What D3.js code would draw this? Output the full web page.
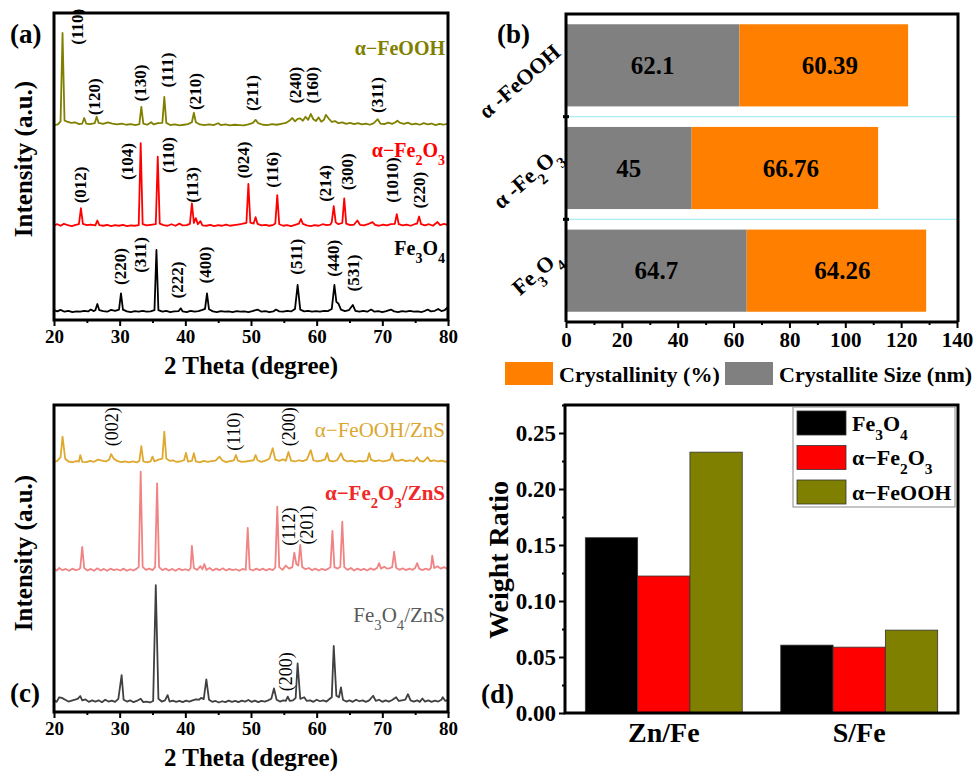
<!DOCTYPE html>
<html>
<head>
<meta charset="utf-8">
<script src="https://cdn.jsdelivr.net/npm/d3@7"></script>
<style>
  body { margin: 0; background: #fff; }
  svg { display: block; font-family: "Liberation Serif", "Times New Roman", serif; }
</style>
</head>
<body>
<div id="chart"></div>
<script>
// ---------- data: panel (a) XRD of the iron oxides, [2theta, intensity a.u.] ----------
const thetaTicks = [20, 30, 40, 50, 60, 70, 80];

const feoohA = [[20,0.3],[20.6,0.5],[21.0,1.5],[21.3,30.3],[21.6,1.8],[22.0,1.4],[22.6,1.0],[23.2,1.2],[23.8,0.6],[24.3,0.8],[24.6,2.6],[24.9,0.8],[25.5,0.6],[26.2,0.9],[26.5,3.0],[26.8,1.0],[27.5,0.7],[28.2,1.2],[28.9,0.8],[29.6,0.5],[30.3,0.8],[31.0,0.4],[31.7,0.6],[32.4,0.3],[33.0,0.6],[33.3,6.2],[33.6,0.8],[34.2,0.4],[34.8,1.2],[35.2,0.5],[35.8,0.9],[36.5,1.0],[36.8,9.5],[37.1,1.0],[37.7,0.3],[38.4,0.5],[39.1,0.2],[39.8,0.4],[40.4,0.6],[41.0,1.2],[41.3,4.3],[41.6,1.2],[42.2,0.5],[42.9,0.3],[43.6,0.5],[44.3,0.3],[45.0,0.9],[45.4,0.3],[46.1,0.5],[46.8,0.2],[47.5,0.4],[48.2,0.3],[48.9,0.2],[49.6,0.5],[50.3,1.0],[50.7,2.0],[51.1,0.9],[51.8,0.4],[52.5,0.3],[53.2,0.6],[53.9,0.4],[54.6,0.7],[55.3,1.0],[55.9,1.8],[56.3,2.6],[56.7,1.5],[57.1,2.3],[57.5,2.5],[57.9,1.7],[58.3,3.0],[58.7,2.0],[59.1,3.9],[59.5,2.2],[59.9,1.6],[60.3,2.8],[60.7,1.4],[61.1,2.0],[61.4,3.6],[61.8,2.5],[62.3,1.3],[62.8,1.6],[63.3,0.9],[63.9,1.2],[64.5,0.7],[65.1,1.0],[65.7,0.6],[66.3,0.9],[66.9,0.5],[67.5,0.8],[68.1,0.4],[68.7,0.9],[69.3,2.2],[69.7,0.8],[70.3,0.6],[70.9,1.1],[71.5,0.7],[72.0,1.2],[72.3,1.7],[72.7,1.0],[73.3,0.7],[73.9,1.1],[74.5,0.5],[75.1,0.8],[75.7,0.4],[76.3,0.9],[76.9,0.5],[77.5,0.8],[78.1,0.3],[78.7,0.7],[79.3,0.4],[80,0.8]];

const fe2o3A = [[20,0.4],[20.5,0.8],[21.0,0.3],[21.5,0.9],[22.1,0.5],[22.7,0.2],[23.3,0.6],[23.8,0.8],[24.1,6.0],[24.4,0.9],[25.0,0.5],[25.6,0.7],[26.3,0.4],[26.6,2.0],[26.9,0.5],[27.5,0.3],[28.1,0.6],[28.7,0.2],[29.3,0.5],[29.9,0.3],[30.5,0.6],[31.1,0.2],[31.7,0.4],[32.3,0.3],[32.9,0.5],[33.2,27.2],[33.5,0.8],[34.1,0.4],[34.7,0.6],[35.5,0.8],[35.8,22.8],[36.1,1.0],[36.7,0.5],[37.3,0.3],[37.9,0.8],[38.5,0.3],[39.1,1.0],[39.6,0.4],[40.2,0.5],[40.7,0.9],[41.0,7.6],[41.3,1.2],[41.6,2.8],[41.9,0.8],[42.3,1.8],[42.6,0.4],[43.2,0.3],[43.8,0.6],[44.4,0.2],[45.0,0.5],[45.6,0.3],[46.2,0.7],[46.8,0.3],[47.4,0.5],[48.0,0.7],[48.6,0.9],[49.3,1.2],[49.6,13.9],[49.9,1.3],[50.4,1.0],[50.7,3.1],[51.0,0.9],[51.6,0.4],[52.2,0.6],[52.8,0.3],[53.4,0.6],[53.7,1.0],[54.0,10.3],[54.3,0.8],[54.9,0.3],[55.5,0.5],[56.1,0.2],[56.7,0.6],[57.3,1.0],[57.6,2.5],[57.9,0.9],[58.5,0.4],[59.1,0.2],[59.7,0.5],[60.3,0.3],[60.9,0.8],[61.5,0.5],[62.1,0.7],[62.3,1.5],[62.6,6.7],[62.9,1.4],[63.3,0.8],[63.9,1.2],[64.2,9.2],[64.5,1.0],[65.1,0.5],[65.7,0.7],[66.2,2.0],[66.6,0.6],[67.2,0.4],[67.8,0.8],[68.5,1.5],[68.9,0.6],[69.5,0.3],[70.1,0.7],[70.7,0.4],[71.3,0.8],[71.9,0.9],[72.2,4.1],[72.5,0.8],[73.1,0.4],[73.7,0.7],[74.3,0.3],[74.9,0.8],[75.3,1.0],[75.6,3.3],[75.9,0.8],[76.5,0.4],[77.1,0.8],[77.7,0.3],[78.4,1.5],[78.8,0.5],[79.4,0.9],[80,0.5]];

const fe3o4A = [[20,0.8],[20.5,0.4],[21.0,0.9],[21.6,0.3],[22.2,0.6],[22.8,0.2],[23.4,0.4],[24.0,0.3],[24.6,0.6],[25.2,0.4],[25.6,1.0],[26.0,0.5],[26.3,0.8],[26.6,2.8],[26.9,0.8],[27.5,0.5],[28.1,0.3],[28.7,0.9],[29.3,0.6],[29.9,1.0],[30.2,6.3],[30.5,1.0],[31.1,0.4],[31.7,0.2],[32.3,0.5],[32.9,0.3],[33.5,0.6],[34.1,0.3],[34.7,0.4],[35.3,0.8],[35.6,20.4],[35.9,0.8],[36.5,0.3],[37.1,0.6],[37.7,0.2],[38.3,0.4],[39.0,0.5],[39.3,1.4],[39.6,0.4],[40.2,0.2],[40.8,0.6],[41.4,0.3],[42.0,0.5],[42.6,0.9],[43.0,1.2],[43.3,6.3],[43.6,1.1],[44.2,0.4],[44.8,0.2],[45.4,0.5],[46.0,0.3],[46.6,0.4],[47.2,0.2],[47.8,0.5],[48.4,0.3],[49.0,0.4],[49.6,0.2],[50.2,0.5],[51.0,1.0],[51.6,0.3],[52.2,0.5],[52.8,0.2],[53.4,0.4],[53.8,1.0],[54.3,0.4],[54.9,0.3],[55.5,0.6],[56.1,0.4],[56.7,1.2],[57.1,9.0],[57.5,1.0],[58.1,0.4],[58.7,0.6],[59.3,0.3],[59.9,0.5],[60.5,0.3],[61.1,0.6],[61.7,0.5],[62.3,1.2],[62.7,9.0],[63.0,3.5],[63.3,3.0],[63.7,1.0],[64.3,0.5],[64.9,0.8],[65.5,2.5],[65.9,0.6],[66.5,0.3],[67.1,0.6],[67.7,0.3],[68.3,1.0],[68.8,0.3],[69.4,0.5],[70.0,0.2],[70.6,0.5],[71.3,1.0],[71.8,0.4],[72.4,0.2],[73.0,0.5],[73.6,0.3],[74.2,0.6],[74.8,0.3],[75.4,0.4],[76.0,0.2],[76.5,0.6],[76.9,1.0],[77.4,0.4],[78.0,0.6],[78.5,1.2],[79.0,0.5],[79.5,0.8],[79.8,1.5],[80,0.8]];

const namesA = ['α−FeOOH', 'α−Fe_2O_3', 'Fe_3O_4'];
const offsetsA = [63.2, 30.4, 2.4];
const colorsA = ['#808000', '#ff0000', '#000000'];
const nameLevelA = [86.3, 53.1, 21.2];
// hkl annotations: [label, 2theta, intensity level]
const hklA = [
  ['(110)',23.46,95.5],['(120)',26.09,72.7],['(130)',33.1,77.2],['(111)',37.16,81.4],['(210)',41.47,74.4],
  ['(211)',50.1,73.9],['(240)',56.7,76.5],['(160)',59.24,76.5],['(311)',69.14,73.3],
  ['(012)',23.96,44.0],['(104)',31.07,51.6],['(110)',37.4,53.7],['(113)',40.97,44.0],['(024)',48.83,52.1],
  ['(116)',53.15,48.9],['(214)',61.27,44.5],['(300)',64.57,48.3],['(1010)',71.42,45.6],['(220)',75.63,42.3],
  ['(220)',30.05,17.4],['(311)',33.1,21.2],['(222)',38.68,13.0],['(400)',42.99,17.9],['(511)',56.85,20.6],
  ['(440)',62.53,20.1],['(531)',65.58,15.3]
];

// ---------- data: panel (b) crystallite size / crystallinity ----------
const bSamples = ['α -FeOOH', 'α -Fe_2O_3', 'Fe_3O_4'];
const crystalliteSize = [62.1, 45, 64.7];
const crystallinity = [60.39, 66.76, 64.26];
const bTicks = [0, 20, 40, 60, 80, 100, 120, 140];

// ---------- data: panel (c) XRD of the ZnS composites ----------
const feoohZnS = [[20,0.5],[20.5,0.8],[21.0,2.0],[21.3,8.7],[21.7,1.5],[22.2,0.6],[22.8,0.4],[23.4,0.7],[23.8,0.6],[24.0,2.7],[24.3,0.5],[24.9,0.4],[25.5,0.8],[26.1,0.5],[26.7,1.2],[27.3,0.9],[27.9,0.6],[28.4,1.2],[28.7,3.0],[29.1,1.5],[29.6,0.8],[30.2,0.4],[30.8,0.6],[31.4,0.3],[32.0,0.6],[32.6,0.3],[33.0,0.8],[33.3,5.6],[33.6,0.6],[34.2,0.3],[34.7,0.6],[35.0,2.2],[35.3,0.6],[35.9,1.2],[36.5,1.5],[36.8,10.3],[37.1,1.6],[37.6,0.8],[38.1,1.0],[38.6,0.5],[39.2,0.6],[39.8,1.0],[40.1,3.4],[40.4,0.6],[41.0,0.8],[41.3,3.3],[41.6,0.6],[42.2,0.3],[42.8,0.8],[43.4,0.5],[44.0,0.7],[44.6,0.9],[45.2,2.2],[45.6,1.0],[46.2,0.4],[46.8,0.7],[47.4,1.0],[47.7,2.7],[48.0,0.9],[48.6,0.5],[49.2,0.6],[49.8,0.8],[50.4,1.0],[50.7,2.7],[51.0,1.0],[51.6,0.5],[52.2,0.9],[52.8,1.5],[53.3,4.9],[53.7,1.2],[54.3,0.8],[54.9,1.3],[55.3,0.8],[55.7,3.7],[56.1,0.9],[56.7,0.6],[57.3,1.0],[57.9,0.7],[58.5,1.2],[59.1,4.3],[59.5,1.0],[60.1,0.6],[60.7,0.9],[61.3,1.3],[61.6,3.3],[61.9,0.9],[62.5,0.6],[63.1,1.0],[63.4,2.0],[63.7,3.3],[64.1,1.2],[64.7,0.6],[65.3,0.9],[65.9,0.5],[66.5,0.8],[67.1,0.6],[67.7,0.9],[68.0,3.3],[68.3,1.1],[68.9,0.7],[69.5,1.0],[70.1,0.6],[70.7,0.9],[71.2,1.2],[71.5,3.3],[71.8,1.0],[72.4,0.8],[73.0,1.2],[73.6,0.7],[74.2,1.0],[74.8,0.6],[75.3,2.0],[75.7,0.8],[76.3,0.6],[76.9,2.0],[77.3,0.7],[77.9,1.0],[78.5,0.6],[79.1,0.9],[79.6,0.5],[80,0.8]];

const fe2o3ZnS = [[20,1.0],[20.4,0.4],[20.8,1.2],[21.3,0.5],[21.8,0.9],[22.3,0.3],[22.8,1.0],[23.3,0.5],[23.8,0.8],[24.0,1.2],[24.3,8.1],[24.6,1.2],[25.1,0.4],[25.6,0.9],[26.1,0.3],[26.6,1.1],[27.1,0.4],[27.6,0.9],[28.1,0.3],[28.6,1.0],[29.1,0.5],[29.6,0.8],[30.1,0.4],[30.6,1.0],[31.1,0.3],[31.6,0.8],[32.1,0.4],[32.6,1.0],[32.9,1.5],[33.2,32.6],[33.5,1.6],[34.0,0.6],[34.5,1.0],[35.0,0.5],[35.4,1.5],[35.7,28.8],[36.0,1.5],[36.5,0.5],[37.0,1.0],[37.5,0.4],[38.0,0.9],[38.5,0.3],[39.0,1.0],[39.5,0.5],[40.0,0.8],[40.5,0.4],[40.8,1.2],[41.0,8.4],[41.3,1.2],[41.8,0.6],[42.3,1.8],[42.6,0.8],[42.9,2.5],[43.2,0.6],[43.7,1.2],[44.2,0.4],[44.7,1.0],[45.2,0.5],[45.7,1.1],[46.2,0.4],[46.7,0.9],[47.2,0.5],[47.7,0.8],[48.2,0.3],[48.7,0.9],[49.2,0.6],[49.5,14.3],[49.8,0.8],[50.3,0.4],[50.8,1.0],[51.3,0.5],[51.8,1.0],[52.3,0.4],[52.8,0.9],[53.3,0.5],[53.7,1.3],[54.0,21.2],[54.3,1.5],[54.8,0.6],[55.3,2.0],[55.8,1.0],[56.3,1.5],[56.6,6.2],[56.9,2.5],[57.2,2.0],[57.5,8.7],[57.8,1.5],[58.3,0.8],[58.8,1.2],[59.3,0.5],[59.8,1.0],[60.3,0.4],[60.8,0.9],[61.3,0.5],[61.8,1.0],[62.1,1.5],[62.4,13.3],[62.7,1.5],[63.2,1.0],[63.6,1.6],[63.9,16.3],[64.2,1.5],[64.7,0.6],[65.2,1.2],[65.7,0.4],[66.2,1.0],[66.7,0.5],[67.2,0.9],[67.7,0.4],[68.2,1.1],[68.7,0.6],[69.2,1.2],[69.5,2.8],[69.8,1.0],[70.3,1.6],[70.7,1.0],[71.2,1.2],[71.5,1.5],[71.8,6.5],[72.1,1.3],[72.6,0.6],[73.1,1.1],[73.6,0.5],[74.1,1.0],[74.6,0.6],[75.0,1.2],[75.3,2.8],[75.6,1.0],[76.1,0.5],[76.6,1.0],[77.1,0.6],[77.4,1.2],[77.6,5.2],[77.9,1.2],[78.4,1.8],[78.9,1.0],[79.4,1.5],[80,0.8]];

const fe3o4ZnS = [[20,1.0],[20.4,0.5],[20.8,2.0],[21.2,1.8],[21.7,1.2],[22.2,0.6],[22.7,0.9],[23.2,1.2],[23.6,1.5],[24.0,2.4],[24.3,1.0],[24.8,1.3],[25.3,0.5],[25.8,1.0],[26.3,0.6],[26.8,1.0],[27.3,0.4],[27.8,1.2],[28.3,0.6],[28.8,0.9],[29.3,0.5],[29.8,1.5],[30.3,9.2],[30.6,1.2],[31.1,0.6],[31.6,1.0],[32.1,0.4],[32.6,0.8],[33.2,1.5],[33.6,0.4],[34.1,0.6],[34.6,0.3],[35.1,0.8],[35.5,38.5],[35.9,1.5],[36.4,0.6],[36.9,1.0],[37.3,2.7],[37.6,0.6],[38.1,0.9],[38.6,0.5],[39.1,0.8],[39.6,0.4],[40.1,0.9],[40.6,0.6],[41.1,1.0],[41.6,1.3],[42.1,1.2],[42.4,1.8],[42.8,1.4],[43.2,7.8],[43.6,1.2],[44.1,0.5],[44.6,0.8],[45.1,0.3],[45.6,0.7],[46.1,0.4],[46.6,0.9],[47.1,0.5],[47.6,0.8],[48.1,0.4],[48.6,0.9],[49.1,0.6],[49.6,1.1],[50.1,0.5],[50.6,0.9],[51.1,0.4],[51.6,0.8],[52.1,0.6],[52.6,1.0],[53.1,1.5],[53.5,4.9],[53.9,1.2],[54.4,0.6],[54.9,1.0],[55.3,0.8],[55.6,2.2],[55.9,0.8],[56.4,1.0],[56.8,1.8],[57.1,13.0],[57.5,1.5],[58.1,2.0],[58.5,0.8],[59.0,1.0],[59.5,0.5],[60.0,1.2],[60.5,0.7],[61.0,1.0],[61.5,0.6],[62.0,1.5],[62.3,2.0],[62.6,18.7],[63.0,2.5],[63.4,2.0],[63.7,5.2],[64.0,1.2],[64.5,0.6],[65.0,1.0],[65.5,0.5],[66.0,1.2],[66.5,0.7],[67.0,1.0],[67.5,0.5],[68.0,1.0],[68.6,2.5],[69.0,0.8],[69.5,1.2],[70.0,0.5],[70.5,1.0],[71.0,0.6],[71.5,1.1],[72.1,2.0],[72.5,0.8],[73.0,1.0],[73.5,1.2],[73.9,3.0],[74.3,1.0],[74.8,0.6],[75.3,1.0],[75.7,0.5],[76.1,1.6],[76.5,0.6],[77.0,1.0],[77.5,0.5],[78.0,0.9],[78.5,0.6],[79.0,1.2],[79.2,2.0],[79.6,0.8],[80,1.2]];

const namesC = ['α−FeOOH/ZnS', 'α−Fe_2O_3/ZnS', 'Fe_3O_4/ZnS'];
const offsetsC = [81.0, 45.7, 2.8];
const colorsC = ['#dfa82f', '#f08484', '#404040'];
const nameColorsC = ['#dba72e', '#f02828', '#5a5a5a'];
const nameLevelC = [89.6, 69.1, 29.3];
const hklC = [['(002)',28.79,92.9],['(110)',47.3,91.3],['(200)',55.68,92.9],['(112)',55.68,60.4],['(201)',58.48,60.9],['(200)',55.33,13.1]];

// ---------- data: panel (d) weight ratios ----------
const ratioGroups = ['Zn/Fe', 'S/Fe'];
const ratioSeries = ['Fe_3O_4', 'α−Fe_2O_3', 'α−FeOOH'];
const ratioColors = ['#000000', '#ff0000', '#808000'];
const ratioValues = [[0.1565, 0.1223, 0.2329], [0.0606, 0.0588, 0.0740]];
const ratioTicks = [0, 0.05, 0.10, 0.15, 0.20, 0.25];

// ---------- helpers ----------
const svg = d3.select('#chart').append('svg').attr('width', 973).attr('height', 776);

function rich(sel, str) {
  str.split(/(_\d)/).filter(s => s).forEach(p => {
    if (p[0] === '_') sel.append('tspan').attr('baseline-shift', 'sub').attr('font-size', '70%').text(p.slice(1));
    else sel.append('tspan').text(p);
  });
  return sel;
}

function frame(g, x0, y0, x1, y1) {
  g.append('rect').attr('x', x0).attr('y', y0).attr('width', x1 - x0).attr('height', y1 - y0)
    .attr('fill', 'none').attr('stroke', '#000').attr('stroke-width', 3);
}

// d3 axes put a sans-serif font on their group; keep the serif of the figure
function styleAxis(sel, size) {
  sel.attr('font-family', null).attr('font-size', null);
  sel.selectAll('line').attr('stroke-width', 2);
  sel.selectAll('text').attr('font-size', size).attr('font-weight', 'bold');
}

function xrdPanel(p) {
  const g = svg.append('g');
  const x = d3.scaleLinear().domain([20, 80]).range([p.left, p.right]);
  const y = d3.scaleLinear().domain([0, 100]).range([p.bottom, p.top]);

  p.series.forEach((data, i) => {
    g.append('path').datum(data)
      .attr('fill', 'none').attr('stroke', p.colors[i]).attr('stroke-width', 1.8)
      .attr('stroke-linejoin', 'round')
      .attr('d', d3.line().x(d => x(d[0])).y(d => y(d[1] + p.offsets[i])));
    rich(g.append('text').attr('x', p.right - 3).attr('y', y(p.nameLevels[i]))
      .attr('text-anchor', 'end').attr('font-size', p.nameSize).attr('font-weight', p.nameWeights[i])
      .attr('fill', p.nameColors[i]), p.names[i]);
  });

  p.hkl.forEach(h => {
    g.append('text')
      .attr('transform', `translate(${x(h[1])},${y(h[2])}) rotate(-90)`)
      .attr('text-anchor', 'middle').attr('dy', '0.35em')
      .attr('font-size', p.hklSize).attr('font-weight', p.hklWeight)
      .text(h[0]);
  });

  frame(g, p.left, p.top, p.right, p.bottom);

  const ax = g.append('g').attr('transform', `translate(0,${p.bottom})`)
    .call(d3.axisBottom(x).tickValues(thetaTicks).tickSize(6).tickPadding(4));
  ax.select('.domain').remove();
  styleAxis(ax, 19);
  g.append('g').attr('transform', `translate(0,${p.bottom})`)
    .call(d3.axisBottom(x).tickValues(thetaTicks.slice(1).map(t => t - 5)).tickSize(3).tickFormat(''))
    .call(s => { s.select('.domain').remove(); s.selectAll('line').attr('stroke-width', 2); });

  g.append('text').attr('x', (p.left + p.right) / 2).attr('y', p.bottom + 54)
    .attr('text-anchor', 'middle').attr('font-size', 25).attr('font-weight', 'bold')
    .text('2 Theta (degree)');
  g.append('text')
    .attr('transform', `translate(${p.left - 31},${p.titleY}) rotate(-90)`)
    .attr('text-anchor', 'middle').attr('dy', '0.35em')
    .attr('font-size', 25).attr('font-weight', 'bold')
    .text('Intensity (a.u.)');
  g.append('text').attr('x', p.tagX).attr('y', p.tagY).attr('font-size', 27).attr('font-weight', 'bold').text(p.tag);
}

// ---------- panel (a) ----------
xrdPanel({
  left: 54, right: 448, top: 13, bottom: 320,
  series: [feoohA, fe2o3A, fe3o4A], offsets: offsetsA, colors: colorsA,
  names: namesA, nameColors: colorsA, nameWeights: ['bold', 'bold', 'bold'], nameLevels: nameLevelA, nameSize: 20,
  hkl: hklA, hklSize: 17, hklWeight: 'bold',
  titleY: 159, tag: '(a)', tagX: 10, tagY: 43
});

// ---------- panel (c) ----------
xrdPanel({
  left: 54, right: 448, top: 405, bottom: 712,
  series: [feoohZnS, fe2o3ZnS, fe3o4ZnS], offsets: offsetsC, colors: colorsC,
  names: namesC, nameColors: nameColorsC, nameWeights: ['normal', 'bold', 'normal'], nameLevels: nameLevelC, nameSize: 21,
  hkl: hklC, hklSize: 18, hklWeight: 'normal',
  titleY: 553, tag: '(c)', tagX: 10, tagY: 702
});

// ---------- panel (b) ----------
(function () {
  const g = svg.append('g');
  const L = 566, R = 958, T = 14, B = 322;
  const x = d3.scaleLinear().domain([0, 140]).range([L, 957]);
  const y = d3.scaleBand().domain(bSamples).range([T, B]).paddingInner(0.2).paddingOuter(0.1);
  const step = y.step();

  // separators between categories
  bSamples.slice(1).forEach(s => {
    g.append('line').attr('x1', L).attr('x2', R)
      .attr('y1', y(s) - step * 0.1).attr('y2', y(s) - step * 0.1)
      .attr('stroke', '#a6eef4').attr('stroke-width', 1.2);
  });

  bSamples.forEach((s, i) => {
    g.append('rect').attr('x', x(0)).attr('y', y(s)).attr('width', x(crystalliteSize[i]) - x(0))
      .attr('height', y.bandwidth()).attr('fill', '#808080');
    g.append('rect').attr('x', x(crystalliteSize[i])).attr('y', y(s))
      .attr('width', x(crystalliteSize[i] + crystallinity[i]) - x(crystalliteSize[i]))
      .attr('height', y.bandwidth()).attr('fill', '#ff8000');
    g.append('text').attr('x', x(crystalliteSize[i] / 2)).attr('y', y(s) + y.bandwidth() / 2)
      .attr('dy', '0.35em').attr('text-anchor', 'middle').attr('font-size', 25).attr('font-weight', 'bold')
      .text(crystalliteSize[i]);
    g.append('text').attr('x', x(crystalliteSize[i] + crystallinity[i] / 2) + 6).attr('y', y(s) + y.bandwidth() / 2)
      .attr('dy', '0.35em').attr('text-anchor', 'middle').attr('font-size', 25).attr('font-weight', 'bold')
      .text(crystallinity[i].toFixed(2));
    rich(g.append('text')
      .attr('transform', `translate(${L - 4},${y(s) + y.bandwidth() / 2 - 11}) rotate(-41)`)
      .attr('text-anchor', 'end').attr('font-size', 22).attr('font-weight', 'bold'), s);
  });

  // frame: top, right, left
  g.append('path').attr('d', `M${L},${B}V${T}H${R}V${B}`).attr('fill', 'none')
    .attr('stroke', '#000').attr('stroke-width', 3);
  // category boundary ticks on left axis
  bSamples.slice(1).forEach(s => {
    g.append('line').attr('x1', L - 3).attr('x2', L + 3)
      .attr('y1', y(s) - step * 0.1).attr('y2', y(s) - step * 0.1)
      .attr('stroke', '#000').attr('stroke-width', 3);
  });

  const ax = g.append('g').attr('transform', `translate(0,${B})`)
    .call(d3.axisBottom(x).tickValues(bTicks).tickSize(6).tickPadding(4));
  ax.select('.domain').attr('stroke-width', 3).attr('d', `M${L},0H${R}`);
  styleAxis(ax, 21);
  g.append('g').attr('transform', `translate(0,${B})`)
    .call(d3.axisBottom(x).tickValues(bTicks.slice(1).map(t => t - 10)).tickSize(3).tickFormat(''))
    .call(s => { s.select('.domain').remove(); s.selectAll('line').attr('stroke-width', 2); });

  // legend
  const leg = [['Crystallinity (%)', '#ff8000', 505], ['Crystallite Size (nm)', '#808080', 725]];
  leg.forEach(l => {
    g.append('rect').attr('x', l[2]).attr('y', 362).attr('width', 48).attr('height', 23).attr('fill', l[1]);
    g.append('text').attr('x', l[2] + 54).attr('y', 374).attr('dy', '0.35em')
      .attr('font-size', 22).attr('font-weight', 'bold').text(l[0]);
  });

  g.append('text').attr('x', 497).attr('y', 43).attr('font-size', 27).attr('font-weight', 'bold').text('(b)');
})();

// ---------- panel (d) ----------
(function () {
  const g = svg.append('g');
  const L = 565, R = 958, T = 405, B = 713;
  const x0 = d3.scaleBand().domain(ratioGroups).range([L, R]).paddingInner(0.197).paddingOuter(0.104);
  const x1 = d3.scaleBand().domain(ratioSeries).range([0, x0.bandwidth()]);
  const y = d3.scaleLinear().domain([0, 0.275]).range([B, T]);

  ratioGroups.forEach((grp, gi) => {
    ratioSeries.forEach((s, si) => {
      g.append('rect').attr('x', x0(grp) + x1(s)).attr('y', y(ratioValues[gi][si]))
        .attr('width', x1.bandwidth()).attr('height', y(0) - y(ratioValues[gi][si]))
        .attr('fill', ratioColors[si]).attr('stroke', '#333').attr('stroke-width', 0.8);
    });
  });

  frame(g, L, T, R, B);

  const ay = g.append('g').attr('transform', `translate(${L},0)`)
    .call(d3.axisLeft(y).tickValues(ratioTicks).tickFormat(d3.format('.2f')).tickSize(6).tickPadding(3));
  ay.select('.domain').remove();
  styleAxis(ay, 23);
  g.append('g').attr('transform', `translate(${L},0)`)
    .call(d3.axisLeft(y).tickValues(ratioTicks.map(t => t + 0.025)).tickSize(3).tickFormat(''))
    .call(s => { s.select('.domain').remove(); s.selectAll('line').attr('stroke-width', 2); });

  ratioGroups.forEach(grp => {
    g.append('text').attr('x', x0(grp) + x0.bandwidth() / 2).attr('y', 742)
      .attr('text-anchor', 'middle').attr('font-size', 28).attr('font-weight', 'bold').text(grp);
  });

  g.append('text').attr('transform', 'translate(498,560) rotate(-90)')
    .attr('text-anchor', 'middle').attr('dy', '0.35em').attr('font-size', 28).attr('font-weight', 'bold')
    .text('Weight Ratio');

  // legend
  g.append('rect').attr('x', 793).attr('y', 407).attr('width', 162).attr('height', 100)
    .attr('fill', '#fff').attr('stroke', '#8a8a8a').attr('stroke-width', 1);
  ratioSeries.forEach((s, i) => {
    const yy = 411 + i * 34.5;
    g.append('rect').attr('x', 797).attr('y', yy).attr('width', 49).attr('height', 24)
      .attr('fill', ratioColors[i]).attr('stroke', '#333').attr('stroke-width', 0.8);
    rich(g.append('text').attr('x', 852).attr('y', yy + 12).attr('dy', '0.35em')
      .attr('font-size', 22).attr('font-weight', 'bold'), s);
  });

  g.append('text').attr('x', 481).attr('y', 703).attr('font-size', 27).attr('font-weight', 'bold').text('(d)');
})();
</script>
</body>
</html>
